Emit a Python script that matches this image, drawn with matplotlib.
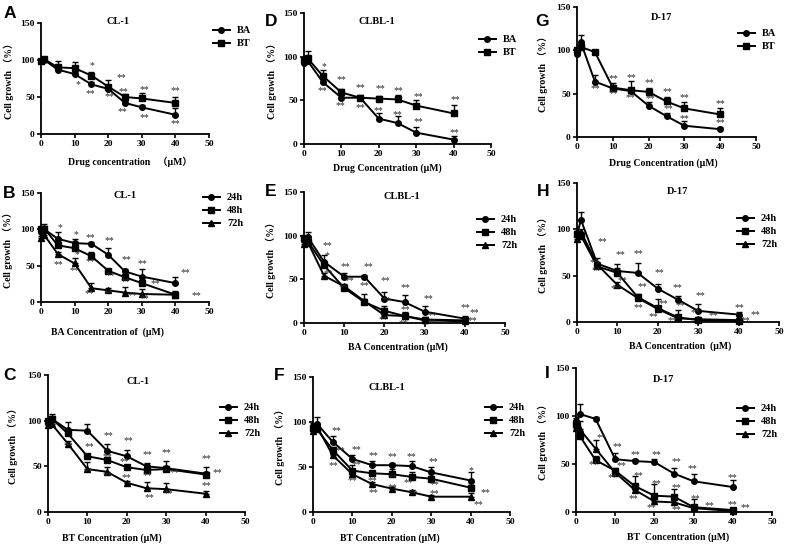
import matplotlib
matplotlib.use("Agg")
import matplotlib.pyplot as plt

W, H = 788, 554
SERIF = ["Liberation Serif", "Noto Sans CJK SC", "DejaVu Sans"]

X = [0, 1, 5, 10, 15, 20, 25, 30, 40]

# ---------------- data ----------------
A_BA = [99, 100, 87, 81, 67, 61, 42, 36, 26]
A_BA_err = [2, 2, 3, 3, 3, 3, 3, 3, 9]
A_BT = [98, 101, 90, 89, 79, 64, 50, 48, 42]
A_BT_err = [2, 2, 9, 8, 5, 9, 4, 8, 8]

D_BA = [93, 95, 71, 53, 53, 29, 24, 13, 5]
D_BA_err = [2, 3, 3, 3, 2, 6, 8, 7, 4]
D_BT = [96, 98, 78, 59, 53, 52, 51, 44, 35]
D_BT_err = [3, 8, 7, 4, 3, 3, 5, 6, 10]

G_BA = [96, 110, 64, 56, 53, 36, 24, 13, 9]
G_BA_err = [3, 8, 7, 3, 3, 4, 4, 6, 3]
G_BT = [100, 104, 98, 57, 54, 52, 41, 33, 26]
G_BT_err = [3, 5, 2, 5, 11, 4, 5, 7, 7]

B_24 = [97, 100, 87, 81, 80, 65, 42, 35, 26]
B_24_err = [2, 8, 10, 6, 3, 10, 4, 10, 9]
B_48 = [100, 101, 78, 74, 63, 43, 34, 26, 10]
B_48_err = [3, 3, 5, 4, 6, 2, 3, 4, 5]
B_72 = [88, 92, 66, 53, 19, 16, 13, 11, 10]
B_72_err = [3, 3, 3, 7, 7, 3, 8, 7, 3]

E_24 = [95, 98, 70, 53, 53, 28, 24, 13, 5]
E_24_err = [3, 6, 8, 4, 2, 8, 8, 7, 3]
E_48 = [97, 93, 66, 40, 24, 14, 8, 4, 3]
E_48_err = [3, 5, 4, 3, 9, 5, 5, 3, 2]
E_72 = [90, 92, 54, 42, 25, 9, 8, 3, 2]
E_72_err = [3, 3, 3, 3, 3, 3, 3, 2, 1]

H_24 = [95, 110, 63, 55, 53, 36, 24, 12, 8]
H_24_err = [3, 9, 6, 3, 11, 5, 4, 7, 3]
H_48 = [95, 93, 60, 53, 27, 15, 5, 2, 1]
H_48_err = [3, 3, 4, 10, 3, 10, 8, 2, 1]
H_72 = [90, 97, 62, 40, 26, 14, 4, 3, 2]
H_72_err = [3, 3, 3, 3, 3, 3, 3, 2, 1]

C_24 = [97, 102, 90, 89, 67, 61, 50, 48, 42]
C_24_err = [2, 5, 9, 7, 8, 7, 4, 8, 7]
C_48 = [100, 102, 86, 61, 57, 49, 46, 47, 41]
C_48_err = [2, 3, 3, 2, 3, 2, 2, 2, 3]
C_72 = [95, 96, 75, 47, 44, 32, 26, 25, 20]
C_72_err = [2, 3, 3, 8, 5, 2, 7, 7, 3]

F_24 = [96, 98, 78, 59, 52, 52, 51, 44, 35]
F_24_err = [3, 8, 7, 4, 5, 3, 6, 6, 10]
F_48 = [93, 92, 69, 46, 43, 42, 39, 37, 27]
F_48_err = [2, 3, 3, 6, 3, 6, 5, 3, 3]
F_72 = [90, 95, 63, 42, 31, 26, 22, 17, 17]
F_72_err = [2, 2, 2, 2, 2, 2, 2, 2, 4]

I_24 = [95, 102, 97, 55, 53, 52, 40, 32, 26]
I_24_err = [3, 11, 2, 6, 2, 3, 6, 8, 7]
I_48 = [92, 79, 54, 43, 27, 17, 16, 5, 2]
I_48_err = [3, 3, 4, 3, 10, 12, 8, 9, 2]
I_72 = [88, 86, 66, 41, 23, 11, 10, 4, 1]
I_72_err = [3, 9, 9, 3, 3, 3, 3, 2, 1]

# significance marks (x, y, text) in data units
STARS_A = [(15.3, 92, "*"), (10.9, 67, "*"), (14.7, 54, "**"), (23.8, 76, "**"),
           (20.4, 51, "**"), (24.6, 57, "**"), (24.3, 30, "**"), (30.7, 60, "**"),
           (30.7, 22, "**"), (40.1, 59, "**"), (40.1, 14, "**")]
STARS_D = [(5.4, 89, "*"), (4.9, 61, "**"), (10.1, 74, "**"), (9.6, 44, "**"),
           (15.2, 65, "**"), (15.2, 42, "**"), (20.5, 63, "**"), (20.0, 38, "**"),
           (25.2, 61, "**"), (24.9, 34, "**"), (30.6, 54, "**"), (30.6, 26, "**"),
           (40.4, 51, "**"), (40.1, 13, "**")]
STARS_G = [(5.1, 56, "**"), (10.2, 67, "**"), (10.2, 50, "**"), (15.3, 69, "**"),
           (14.9, 45, "**"), (20.3, 63, "**"), (20.4, 44, "**"), (25.3, 52, "**"),
           (25.4, 33, "**"), (30.0, 45, "**"), (30.0, 21, "**"), (40.1, 38, "**"),
           (40.1, 17, "**")]
STARS_B = [(5.7, 103, "*"), (10.4, 93, "*"), (14.8, 89, "**"), (20.3, 84, "**"),
           (10.6, 65, "*"), (5.2, 51, "**"), (9.8, 43, "**"), (14.8, 56, "**"),
           (20.7, 36, "**"), (14.3, 12, "**"), (20.0, 12, "**"), (25.5, 59, "**"),
           (30.1, 53, "**"), (25.0, 28, "**"), (27.2, 9, "**"), (34.0, 25, "**"),
           (30.9, 4, "**"), (42.9, 40, "**"), (46.3, 9, "**")]
STARS_E = [(5.8, 89, "**"), (5.8, 77, "*"), (6.0, 57, "**"), (10.3, 65, "**"),
           (11.3, 48, "**"), (9.8, 40, "**"), (16.0, 65, "**"), (15.1, 43, "**"),
           (20.2, 49, "**"), (20.4, 26, "**"), (19.8, 4, "**"), (25.2, 41, "**"),
           (25.2, 15, "**"), (24.8, -1, "**"), (31.0, 28, "**"), (32.0, 9, "**"),
           (32.0, 0, "**"), (40.2, 18, "**"), (42.3, 12, "**"), (41.9, 3, "**")]
STARS_H = [(6.3, 87, "**"), (4.3, 64, "**"), (4.8, 55, "**"), (10.7, 73, "**"),
           (15.2, 74, "**"), (11.3, 45, "**"), (9.5, 36, "**"), (16.2, 38, "**"),
           (15.2, 16, "**"), (20.3, 53, "**"), (21.4, 20, "**"), (19.0, 6, "**"),
           (24.9, 37, "**"), (25.5, 18, "**"), (23.5, 2, "**"), (30.5, 28, "**"),
           (29.2, 10, "**"), (33.8, 7, "**"), (40.2, 16, "**"), (44.2, 8, "**"),
           (41.8, 1, "**")]
STARS_C = [(5.1, 73, "**"), (10.6, 72, "**"), (10.2, 44, "**"), (15.3, 84, "**"),
           (15.0, 61, "**"), (15.0, 40, "**"), (20.3, 78, "**"), (19.5, 55, "**"),
           (19.9, 38, "**"), (25.2, 63, "**"), (25.2, 40, "**"), (25.7, 16, "**"),
           (30.1, 65, "**"), (32.0, 43, "**"), (30.5, 20, "**"), (40.1, 59, "**"),
           (43.0, 43, "**"), (40.1, 29, "**")]
STARS_F = [(5.9, 90, "**"), (7.0, 68, "**"), (5.3, 51, "**"), (11.0, 69, "**"),
           (11.0, 53, "**"), (10.1, 35, "**"), (15.4, 63, "**"), (15.2, 35, "**"),
           (15.4, 22, "**"), (20.2, 61, "**"), (20.2, 38, "**"), (20.2, 27, "**"),
           (25.0, 61, "**"), (24.3, 33, "**"), (25.5, 20, "**"), (30.6, 56, "**"),
           (30.9, 30, "**"), (30.9, 20, "**"), (40.1, 46, "*"), (43.7, 22, "**"),
           (42.0, 8, "**")]
STARS_I = [(6.6, 78, "**"), (4.4, 49, "**"), (10.6, 68, "**"), (11.7, 48, "**"),
           (9.3, 36, "**"), (15.1, 60, "**"), (16.0, 38, "**"), (14.6, 14, "**"),
           (20.4, 60, "**"), (20.6, 30, "**"), (19.3, 5, "**"), (25.7, 52, "**"),
           (25.5, 25, "**"), (25.5, 2, "**"), (29.7, 45, "**"), (30.4, 14, "**"),
           (34.0, 7, "**"), (40.0, 36, "**"), (40.0, 8, "**"), (43.2, 5, "**")]

fig = plt.figure(figsize=(W / 100, H / 100), dpi=100)


def fx(px):
    return px / W


def fy(py):
    return 1 - py / H


def panel(letter, box, title, title_xy, xlabel, xlabel_xy, ylab_x, letter_xy,
          series, legend_xy, stars):
    left, right, top, bottom = box
    ax = fig.add_axes([fx(left), fy(bottom), (right - left) / W, (bottom - top) / H])
    for (y, err, lab, mk, ms) in series:
        ax.errorbar(X, y, yerr=[[0] * len(err), err], fmt="none", ecolor="black",
                    elinewidth=1.0, capsize=2.5, capthick=1.0, clip_on=False)
        ax.plot(X, y, color="black", lw=1.4, marker=mk, ms=ms, label=lab,
                clip_on=False)
    for (sx, sy, t) in stars:
        ax.text(sx, sy, t, ha="center", va="center", fontsize=7,
                color="#2a2a2a", family=SERIF)
    ax.set_xlim(0, 50)
    ax.set_ylim(0, 150)
    ax.set_xticks([0, 10, 20, 30, 40, 50])
    ax.set_yticks([0, 50, 100, 150])
    for s in ("top", "right"):
        ax.spines[s].set_visible(False)
    for s in ("left", "bottom"):
        ax.spines[s].set_linewidth(1.3)
    ax.tick_params(direction="out", length=3, width=1.2, pad=1.5)
    for lab in ax.get_xticklabels() + ax.get_yticklabels():
        lab.set_family(SERIF)
        lab.set_fontweight("bold")
        lab.set_fontsize(6.8)
    ax.patch.set_alpha(0)
    ax.legend(loc="upper left", bbox_to_anchor=(fx(legend_xy[0]), fy(legend_xy[1])),
              bbox_transform=fig.transFigure, frameon=False, borderpad=0,
              borderaxespad=0, handlelength=1.6, handletextpad=0.7,
              labelspacing=0.35, prop={"family": SERIF, "weight": "bold", "size": 7.5})
    fig.text(fx(title_xy[0]), fy(title_xy[1]), title, ha="center", va="center",
             family=SERIF, fontweight="bold", fontsize=7.5)
    fig.text(fx(xlabel_xy[0]), fy(xlabel_xy[1]), xlabel, ha="center", va="center",
             family=SERIF, fontweight="bold", fontsize=7)
    fig.text(fx(ylab_x), fy((top + bottom) / 2), "Cell growth （%）", ha="center",
             va="center", rotation=90, family=SERIF, fontweight="bold", fontsize=7)
    fig.text(fx(letter_xy[0]), fy(letter_xy[1]), letter, ha="center", va="center",
             family=["Liberation Sans", "DejaVu Sans"], fontweight="bold", fontsize=12.5)
    return ax


panel("A", (41, 209, 23, 134), "CL-1", (118, 21), "Drug concentration   （μM）", (130, 162),
      9, (10, 14),
      [(A_BA, A_BA_err, "BA", "o", 4), (A_BT, A_BT_err, "BT", "s", 4)], (213, 26), STARS_A)
panel("D", (304, 491, 13, 144), "CLBL-1", (377, 21), "Drug Concentration (μM)", (387, 168),
      272, (271, 22),
      [(D_BA, D_BA_err, "BA", "o", 4), (D_BT, D_BT_err, "BT", "s", 4)], (479, 35), STARS_D)
panel("G", (577, 756, 7, 137), "D-17", (662, 17), "Drug Concentration (μM)", (663, 163),
      543, (542, 21),
      [(G_BA, G_BA_err, "BA", "o", 4), (G_BT, G_BT_err, "BT", "s", 4)], (738, 29), STARS_G)

panel("B", (41, 209, 193, 302), "CL-1", (125, 195), "BA Concentration of  (μM)", (107, 332),
      8, (9, 193),
      [(B_24, B_24_err, "24h", "o", 4), (B_48, B_48_err, "48h", "s", 4),
       (B_72, B_72_err, "72h", "^", 4.5)], (203, 193), STARS_B)
panel("E", (304, 505, 192, 323), "CLBL-1", (402, 197), "BA Concentration (μM)", (398, 347),
      271, (271, 192),
      [(E_24, E_24_err, "24h", "o", 4), (E_48, E_48_err, "48h", "s", 4),
       (E_72, E_72_err, "72h", "^", 4.5)], (477, 215), STARS_E)
panel("H", (577, 779, 183, 322), "D-17", (678, 192), "BA Concentration  (μM)", (680, 346),
      543, (543, 192),
      [(H_24, H_24_err, "24h", "o", 4), (H_48, H_48_err, "48h", "s", 4),
       (H_72, H_72_err, "72h", "^", 4.5)], (737, 214), STARS_H)

panel("C", (48, 245, 375, 512), "CL-1", (138, 382), "BT Concentration (μM)", (112, 538),
      13, (9, 375),
      [(C_24, C_24_err, "24h", "o", 4), (C_48, C_48_err, "48h", "s", 4),
       (C_72, C_72_err, "72h", "^", 4.5)], (220, 403), STARS_C)
panel("F", (313, 510, 377, 512), "CLBL-1", (387, 388), "BT Concentration (μM)", (390, 538),
      280, (279, 375),
      [(F_24, F_24_err, "24h", "o", 4), (F_48, F_48_err, "48h", "s", 4),
       (F_72, F_72_err, "72h", "^", 4.5)], (485, 403), STARS_F)
panel("I", (576, 772, 368, 512), "D-17", (664, 380), "BT  Concentration (μM)", (678, 537),
      543, (547, 374),
      [(I_24, I_24_err, "24h", "o", 4), (I_48, I_48_err, "48h", "s", 4),
       (I_72, I_72_err, "72h", "^", 4.5)], (737, 404), STARS_I)

fig.savefig("out.png", dpi=100)
